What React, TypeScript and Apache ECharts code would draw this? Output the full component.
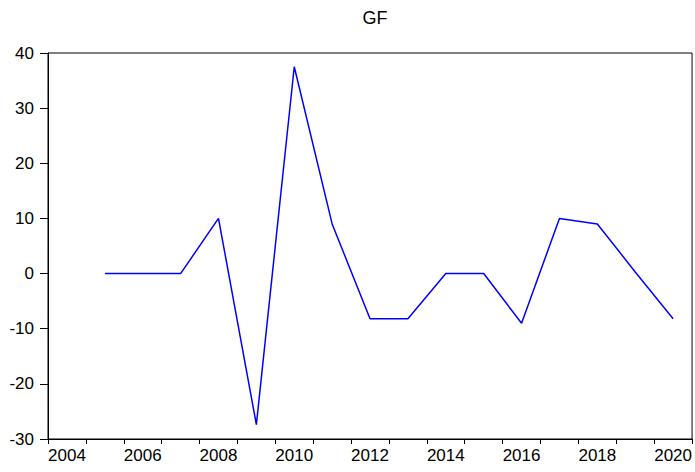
import React, { useEffect, useRef } from "react";
import * as echarts from "echarts";

const years = ["2004","2005","2006","2007","2008","2009","2010","2011","2012","2013","2014","2015","2016","2017","2018","2019","2020"];
const gf: (number | null)[] = [null, 0, 0, 0, 10, -27.4, 37.5, 9, -8.2, -8.2, 0, 0, -9, 10, 9, 0.3, -8.2];
const yTicks = { min: -30, max: 40, interval: 10 };

export default function App() {
  const ref = useRef<HTMLDivElement>(null);
  useEffect(() => {
    if (!ref.current) return;
    const chart = echarts.init(ref.current, undefined, { renderer: "svg" });
    const font = "'Liberation Sans', Arial, sans-serif";
    chart.setOption({
      animation: false,
      backgroundColor: "#fff",
      title: {
        text: "GF",
        left: 370,
        textAlign: "center",
        top: 4,
        textStyle: { fontFamily: font, fontSize: 18, fontWeight: "normal", color: "#000" },
      },
      grid: {
        left: 48, right: 2, top: 53, bottom: 33,
        show: true, borderColor: "#000", borderWidth: 1, backgroundColor: "transparent",
      },
      xAxis: {
        type: "category",
        data: years,
        boundaryGap: true,
        axisLine: { show: true, onZero: false, lineStyle: { color: "#000", width: 1 } },
        axisTick: { show: true, interval: 0, length: 5, lineStyle: { color: "#000" } },
        axisLabel: { interval: 1, color: "#000", fontFamily: font, fontSize: 17, margin: 8 },
        splitLine: { show: false },
      },
      yAxis: {
        type: "value",
        min: yTicks.min, max: yTicks.max, interval: yTicks.interval,
        axisLine: { show: true, onZero: false, lineStyle: { color: "#000", width: 1 } },
        axisTick: { show: true, length: 8, lineStyle: { color: "#000" } },
        axisLabel: { color: "#000", fontFamily: font, fontSize: 17, margin: 14 },
        splitLine: { show: false },
      },
      series: [
        {
          type: "line",
          data: gf,
          showSymbol: false,
          symbol: "none",
          connectNulls: false,
          lineStyle: { color: "#0000FF", width: 1.5 },
        },
      ],
    });
    return () => chart.dispose();
  }, []);
  return <div ref={ref} style={{ position: "absolute", left: 0, top: 0, width: 695, height: 472 }} />;
}
